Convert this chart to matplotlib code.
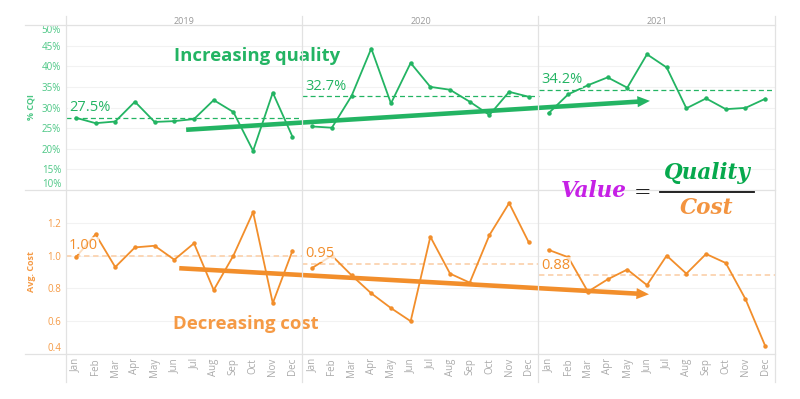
import numpy as np
import matplotlib.pyplot as plt
from matplotlib.lines import Line2D

# Data
years = ['2019', '2020', '2021']
months = ['Jan', 'Feb', 'Mar', 'Apr', 'May', 'Jun', 'Jul', 'Aug', 'Sep', 'Oct', 'Nov', 'Dec']

cqi_2019 = [27.5, 26.2, 26.6, 31.4, 26.5, 26.7, 27.2, 31.8, 28.9, 19.5, 33.6, 22.9]
cqi_2020 = [25.4, 25.1, 32.8, 44.3, 31.0, 40.8, 35.0, 34.3, 31.4, 28.2, 33.8, 32.6]
cqi_2021 = [28.6, 33.2, 35.4, 37.3, 34.8, 42.9, 39.7, 29.8, 32.2, 29.6, 29.9, 32.1]
cqi_avg = [27.5, 32.7, 34.2]

cost_2019 = [0.99, 1.13, 0.93, 1.05, 1.06, 0.975, 1.075, 0.79, 1.0, 1.265, 0.71, 1.03]
cost_2020 = [0.925, 1.0, 0.88, 0.77, 0.68, 0.60, 1.115, 0.89, 0.835, 1.125, 1.32, 1.08]
cost_2021 = [1.035, 0.99, 0.78, 0.855, 0.915, 0.82, 1.0, 0.89, 1.01, 0.955, 0.735, 0.45]
cost_avg = [1.00, 0.95, 0.88]

cqi_ticks = [10, 15, 20, 25, 30, 35, 40, 45, 50]
cost_ticks = [0.4, 0.6, 0.8, 1.0, 1.2]

# trend arrows (start, end) as (month index, value)
quality_trend = [(5.6, 24.6), (29.15, 31.6)]
cost_trend = [(5.25, 0.923), (29.1, 0.764)]

GREEN = '#23b463'
GREEN_TXT = '#4cc785'
ORANGE = '#f28e2b'
ORANGE_TXT = '#f59a45'
PEACH = '#fbd3b0'
GRID = '#f2f2f2'
BORDER = '#e2e2e2'

W, H = 800, 399
fig = plt.figure(figsize=(8, 3.99), dpi=100)
plt.rcParams['font.family'] = ['Open Sans', 'DejaVu Sans']

def fx(px):
    return px / W

def fy(py):
    return 1 - py / H

ax1 = fig.add_axes([fx(66), fy(190), fx(775) - fx(66), fy(25) - fy(190)])
ax2 = fig.add_axes([fx(66), fy(354), fx(775) - fx(66), fy(190) - fy(354)])

cqi = [cqi_2019, cqi_2020, cqi_2021]
cost = [cost_2019, cost_2020, cost_2021]
x_month = np.arange(12)

for ax in (ax1, ax2):
    ax.set_xlim(-0.5, 35.5)
    for s in ax.spines.values():
        s.set_visible(False)
    ax.tick_params(length=0)
    ax.set_facecolor('none')

# top pane: % CQI
for i in range(3):
    xs = x_month + 12 * i
    ax1.plot(xs, cqi[i], color=GREEN, lw=1.3, marker='o', ms=2.2, zorder=3)
    ax1.plot([12 * i - 0.5, 12 * i + 11.5], [cqi_avg[i]] * 2, color=GREEN, lw=0.9,
             ls=(0, (4, 2.5)), zorder=2)
    ax1.annotate(f'{cqi_avg[i]:.1f}%', (12 * i - 0.5, cqi_avg[i]), xytext=(2, 2),
                 textcoords='offset points', color=GREEN, fontsize=10.5, va='bottom', ha='left',
                 bbox=dict(fc='white', ec='none', alpha=0.7, pad=0.5), zorder=4)
ax1.set_ylim(10, 50)
ax1.set_yticks(cqi_ticks)
ax1.set_yticklabels([f'{t}%' for t in cqi_ticks], color=GREEN_TXT, fontsize=7)
ax1.yaxis.get_ticklabels()[0].set_va('bottom')
ax1.yaxis.get_ticklabels()[-1].set_va('top')
ax1.grid(axis='y', color=GRID, lw=0.8)
ax1.set_axisbelow(True)
ax1.set_xticks([])
ax1.set_ylabel('% CQI', color=GREEN_TXT, fontsize=6.5, fontweight='bold')

# bottom pane: Avg. Cost
for i in range(3):
    xs = x_month + 12 * i
    ax2.plot(xs, cost[i], color=ORANGE, lw=1.3, marker='o', ms=2.2, zorder=3)
    ax2.plot([12 * i - 0.5, 12 * i + 11.5], [cost_avg[i]] * 2, color=PEACH, lw=1.3,
             ls=(0, (3, 2)), zorder=2)
    ax2.annotate(f'{cost_avg[i]:.2f}', (12 * i - 0.5, cost_avg[i]), xytext=(2, 2),
                 textcoords='offset points', color=ORANGE, fontsize=10.5, va='bottom', ha='left',
                 bbox=dict(fc='white', ec='none', alpha=0.7, pad=0.5), zorder=4)
ax2.set_ylim(0.4, 1.4)
ax2.set_yticks(cost_ticks)
ax2.set_yticklabels([f'{t:.1f}' for t in cost_ticks], color=ORANGE_TXT, fontsize=7)
ax2.yaxis.get_ticklabels()[0].set_va('bottom')
ax2.grid(axis='y', color=GRID, lw=0.8)
ax2.set_axisbelow(True)
ax2.set_xticks(np.arange(36))
ax2.set_xticklabels(months * 3, rotation=90, color='#aaaaaa', fontsize=7)
ax2.tick_params(axis='x', pad=3)
ax2.set_ylabel('Avg. Cost', color=ORANGE_TXT, fontsize=6.5, fontweight='bold')

for ax in (ax1, ax2):
    ax.yaxis.set_label_coords(-0.043, 0.5)

# trend arrows
ax1.annotate('', xy=quality_trend[1], xytext=quality_trend[0],
             arrowprops=dict(arrowstyle='simple,head_length=0.9,head_width=0.8,tail_width=0.33',
                             mutation_scale=10, color=GREEN, lw=0, shrinkA=0, shrinkB=0), zorder=5)
ax2.annotate('', xy=cost_trend[1], xytext=cost_trend[0],
             arrowprops=dict(arrowstyle='simple,head_length=0.9,head_width=0.8,tail_width=0.33',
                             mutation_scale=10, color=ORANGE, lw=0, shrinkA=0, shrinkB=0), zorder=5)

ax1.text(5.0, 41.35, 'Increasing quality', color=GREEN, fontsize=13.3, fontweight='bold',
         va='baseline', ha='left', zorder=5)
ax2.text(4.95, 0.552, 'Decreasing cost', color=ORANGE_TXT, fontsize=13.3, fontweight='bold',
         va='baseline', ha='left', zorder=5)

# pane borders
for py in (25, 190, 354):
    fig.add_artist(Line2D([fx(25), fx(775)], [fy(py), fy(py)], color=BORDER, lw=0.9))
for px in (66, 302, 538, 775):
    fig.add_artist(Line2D([fx(px), fx(px)], [fy(16), fy(382)], color=BORDER, lw=0.9))

# year headers
for i, yr in enumerate(years):
    fig.text(fx(66 + 236.3 * (i + 0.5)), fy(21), yr, color='#999999', fontsize=6.5,
             ha='center', va='center')

# formula: Value = Quality / Cost
serif = dict(family='DejaVu Serif', fontweight='bold', style='italic', fontsize=15.5)
fig.text(fx(594), fy(197), 'Value', color='#c620e6', ha='center', va='baseline', **serif)
fig.text(fx(643), fy(192), '=', color='#222222', ha='center', va='center',
         family='DejaVu Serif', fontsize=15)
fig.add_artist(Line2D([fx(660), fx(754)], [fy(192), fy(192)], color='#111111', lw=1.3))
fig.text(fx(707), fy(179), 'Quality', color='#06a94d', ha='center', va='baseline', **serif)
fig.text(fx(707), fy(214), 'Cost', color='#f39440', ha='center', va='baseline', **serif)

fig.savefig('out.png', dpi=100, facecolor='white')
